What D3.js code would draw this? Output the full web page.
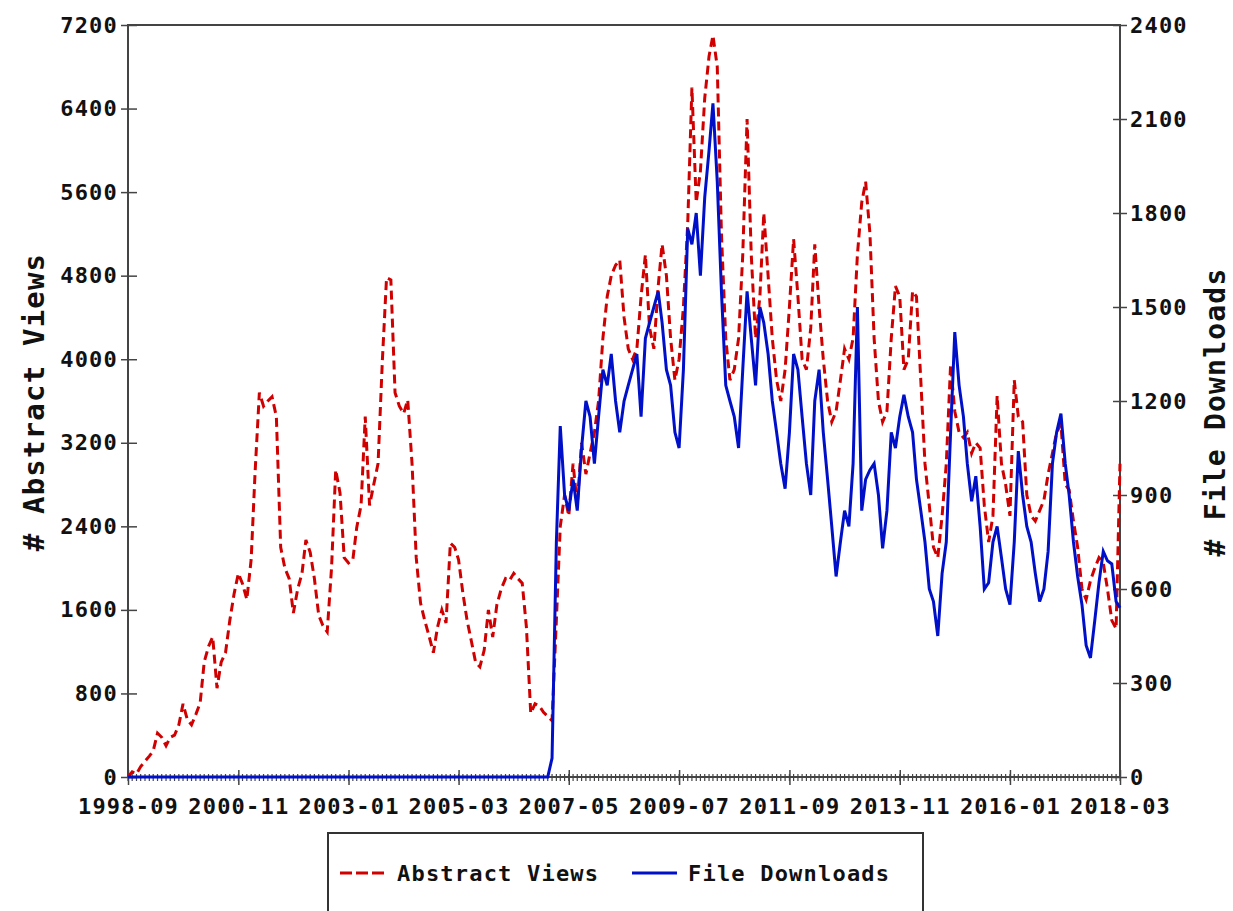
<!DOCTYPE html>
<html lang="en">
<head>
  <meta charset="UTF-8">
  <title>Abstract Views and File Downloads</title>
  <script src="https://d3js.org/d3.v7.min.js"></script>
  <style>
    body { margin: 0; background: #fff; }
    svg { display: block; }
    .tick text, .lbl { font-family: 'DejaVu Sans Mono', monospace; font-weight: bold; fill: #111; letter-spacing: 1.2px; }
    .domain { display: none; }
  </style>
</head>
<body>
  <div id="chart"></div>
  <script>
    const startMonth = "1998-09";

    // monthly abstract views (left axis)
    const abstractViews = [
      0, 50, 30, 100, 150, 200, 250, 420, 380, 300,
      380, 400, 500, 700, 550, 500, 600, 710, 1100, 1250,
      1340, 850, 1100, 1190, 1500, 1750, 1950, 1850, 1700, 2080,
      2910, 3680, 3550, 3600, 3640, 3450, 2200, 2000, 1900, 1570,
      1800, 1950, 2270, 2150, 1900, 1550, 1450, 1390, 2000, 2940,
      2720, 2100, 2050, 2080, 2390, 2600, 3450, 2600, 2800, 3000,
      3990, 4780, 4760, 3680, 3550, 3480, 3610, 3000, 2100, 1665,
      1500, 1350, 1190, 1435, 1600, 1475, 2240, 2200, 2080, 1760,
      1500, 1300, 1100, 1055, 1215, 1600, 1340, 1650, 1800, 1900,
      1880, 1950, 1900, 1855, 1435, 610, 700, 680, 620, 580,
      540, 1500, 2400, 2700, 2500, 3000, 2600, 3200, 2900, 3100,
      3300, 3600, 4200, 4600, 4800, 4900, 4950, 4400, 4100, 4000,
      4100, 4600, 5000, 4300, 4100, 4700, 5100, 4800, 4200, 3800,
      4000, 4500, 5300, 6600, 5500, 5800, 6500, 6900, 7100, 6800,
      5200, 4200, 3800, 3900, 4200, 5000, 6300, 5000, 4200, 4600,
      5400, 4800, 4200, 3800, 3600, 3900, 4500, 5150, 4600, 4000,
      3900, 4300, 5100, 4500, 4000, 3600, 3400, 3500, 3800, 4100,
      4000, 4200, 5000, 5500, 5700, 5200, 4200, 3600, 3400, 3500,
      4200, 4700, 4600, 3900, 4000, 4650, 4600, 3800, 3000, 2600,
      2200, 2100, 2500, 3000, 3950, 3500, 3300, 3250, 3300, 3100,
      3200, 3150, 2600, 2250, 2500, 3650, 3000, 2800, 2500, 3800,
      3450, 3400, 2700, 2500, 2450, 2550, 2650, 2900, 3100, 3300,
      3380, 2800, 2750, 2450, 2200, 1800, 1700, 1880, 2000, 2100,
      2050, 1800, 1500, 1420, 3000
    ];

    // monthly file downloads (right axis)
    const fileDownloads = [
      0, 0, 0, 0, 0, 0, 0, 0, 0, 0,
      0, 0, 0, 0, 0, 0, 0, 0, 0, 0,
      0, 0, 0, 0, 0, 0, 0, 0, 0, 0,
      0, 0, 0, 0, 0, 0, 0, 0, 0, 0,
      0, 0, 0, 0, 0, 0, 0, 0, 0, 0,
      0, 0, 0, 0, 0, 0, 0, 0, 0, 0,
      0, 0, 0, 0, 0, 0, 0, 0, 0, 0,
      0, 0, 0, 0, 0, 0, 0, 0, 0, 0,
      0, 0, 0, 0, 0, 0, 0, 0, 0, 0,
      0, 0, 0, 0, 0, 0, 0, 0, 0, 0,
      60, 750, 1120, 900, 850, 950, 850, 1050, 1200, 1150,
      1000, 1150, 1300, 1250, 1350, 1200, 1100, 1200, 1250, 1300,
      1350, 1150, 1400, 1450, 1500, 1550, 1450, 1300, 1250, 1100,
      1050, 1300, 1750, 1700, 1800, 1600, 1850, 2000, 2150, 1900,
      1550, 1250, 1200, 1150, 1050, 1300, 1550, 1400, 1250, 1500,
      1450, 1350, 1200, 1100, 1000, 920, 1100, 1350, 1300, 1150,
      1000, 900, 1200, 1300, 1100, 950, 800, 640, 750, 850,
      800, 1000, 1500, 850, 950, 980, 1000, 900, 730, 850,
      1100, 1050, 1150, 1220, 1150, 1100, 950, 850, 750, 600,
      560, 450, 650, 750, 1100, 1420, 1250, 1150, 1000, 880,
      960, 800, 600, 620, 750, 800, 700, 600, 550, 750,
      1040, 900, 800, 750, 650, 560, 600, 720, 1000, 1100,
      1160, 1000, 900, 750, 640, 550, 420, 380, 500, 620,
      720, 690, 680, 560, 540
    ];

    const xTickLabels = ["1998-09", "2000-11", "2003-01", "2005-03", "2007-05",
                         "2009-07", "2011-09", "2013-11", "2016-01", "2018-03"];
    const leftTicks = [0, 800, 1600, 2400, 3200, 4000, 4800, 5600, 6400, 7200];
    const rightTicks = [0, 300, 600, 900, 1200, 1500, 1800, 2100, 2400];

    const width = 1233, height = 911;
    const m = { left: 128, right: 1120, top: 25, bottom: 777 };

    const parseMonth = d3.timeParse("%Y-%m");
    const start = parseMonth(startMonth);
    const dates = abstractViews.map((_, i) => d3.timeMonth.offset(start, i));
    const tickDates = xTickLabels.map(parseMonth);

    const x = d3.scaleTime()
      .domain([tickDates[0], tickDates[tickDates.length - 1]])
      .range([m.left, m.right]);
    const yL = d3.scaleLinear().domain([0, 7200]).range([m.bottom, m.top]);
    const yR = d3.scaleLinear().domain([0, 2400]).range([m.bottom, m.top]);

    const svg = d3.select("#chart").append("svg")
      .attr("width", width)
      .attr("height", height);

    svg.append("rect").attr("width", width).attr("height", height).attr("fill", "#fff");

    // frame
    svg.append("rect")
      .attr("x", m.left).attr("y", m.top)
      .attr("width", m.right - m.left).attr("height", m.bottom - m.top)
      .attr("fill", "none").attr("stroke", "#444").attr("stroke-width", 2);

    // minor monthly ticks
    const minor = d3.timeMonth.range(tickDates[0], d3.timeMonth.offset(tickDates[tickDates.length - 1], 1));
    svg.append("g").selectAll("line")
      .data(minor)
      .join("line")
      .attr("x1", d => x(d)).attr("x2", d => x(d))
      .attr("y1", m.bottom - 3).attr("y2", m.bottom + 4)
      .attr("stroke", "#444").attr("stroke-width", 1.2);

    // x axis
    const gx = svg.append("g")
      .attr("transform", `translate(0,${m.bottom})`)
      .call(d3.axisBottom(x).tickValues(tickDates).tickFormat(d3.timeFormat("%Y-%m")).tickSize(8).tickPadding(12));
    gx.selectAll(".tick line").attr("y1", -7).attr("y2", 8).attr("stroke", "#444").attr("stroke-width", 1.5);
    gx.selectAll(".tick text").style("font-size", "22px").attr("dy", "0.75em");

    // left axis
    const gl = svg.append("g")
      .attr("transform", `translate(${m.left},0)`)
      .call(d3.axisLeft(yL).tickValues(leftTicks).tickFormat(d3.format("d")).tickSize(7).tickPadding(3));
    gl.selectAll(".tick line").attr("x1", -7).attr("x2", 9).attr("stroke", "#444").attr("stroke-width", 1.5);
    gl.selectAll(".tick text").style("font-size", "22px");

    // right axis
    const gr = svg.append("g")
      .attr("transform", `translate(${m.right},0)`)
      .call(d3.axisRight(yR).tickValues(rightTicks).tickFormat(d3.format("d")).tickSize(7).tickPadding(3));
    gr.selectAll(".tick line").attr("x1", -7).attr("x2", 7).attr("stroke", "#444").attr("stroke-width", 1.5);
    gr.selectAll(".tick text").style("font-size", "22px");

    // lines
    const viewLine = d3.line().x((d, i) => x(dates[i])).y(d => yL(d));
    const dlLine = d3.line().x((d, i) => x(dates[i])).y(d => yR(d));

    svg.append("path")
      .datum(abstractViews)
      .attr("d", viewLine)
      .attr("fill", "none")
      .attr("stroke", "#d00000")
      .attr("stroke-width", 3)
      .attr("stroke-dasharray", "9,5");

    svg.append("path")
      .datum(fileDownloads)
      .attr("d", dlLine)
      .attr("fill", "none")
      .attr("stroke", "#0010c8")
      .attr("stroke-width", 3);

    // axis titles
    svg.append("text").attr("class", "lbl")
      .attr("transform", `translate(44,402) rotate(-90)`)
      .attr("text-anchor", "middle")
      .style("font-size", "29px")
      .text("# Abstract Views");

    svg.append("text").attr("class", "lbl")
      .attr("transform", `translate(1225,412) rotate(-90)`)
      .attr("text-anchor", "middle")
      .style("font-size", "28px")
      .text("# File Downloads");

    // legend
    const lg = svg.append("g");
    lg.append("rect")
      .attr("x", 328).attr("y", 833).attr("width", 595).attr("height", 100)
      .attr("fill", "#fff").attr("stroke", "#333").attr("stroke-width", 2);
    lg.append("line")
      .attr("x1", 340).attr("x2", 386).attr("y1", 873).attr("y2", 873)
      .attr("stroke", "#d00000").attr("stroke-width", 3).attr("stroke-dasharray", "12,4");
    lg.append("text").attr("class", "lbl")
      .attr("x", 397).attr("y", 881).style("font-size", "22px")
      .text("Abstract Views");
    lg.append("line")
      .attr("x1", 632).attr("x2", 677).attr("y1", 873).attr("y2", 873)
      .attr("stroke", "#0010c8").attr("stroke-width", 3);
    lg.append("text").attr("class", "lbl")
      .attr("x", 688).attr("y", 881).style("font-size", "22px")
      .text("File Downloads");
  </script>
</body>
</html>
